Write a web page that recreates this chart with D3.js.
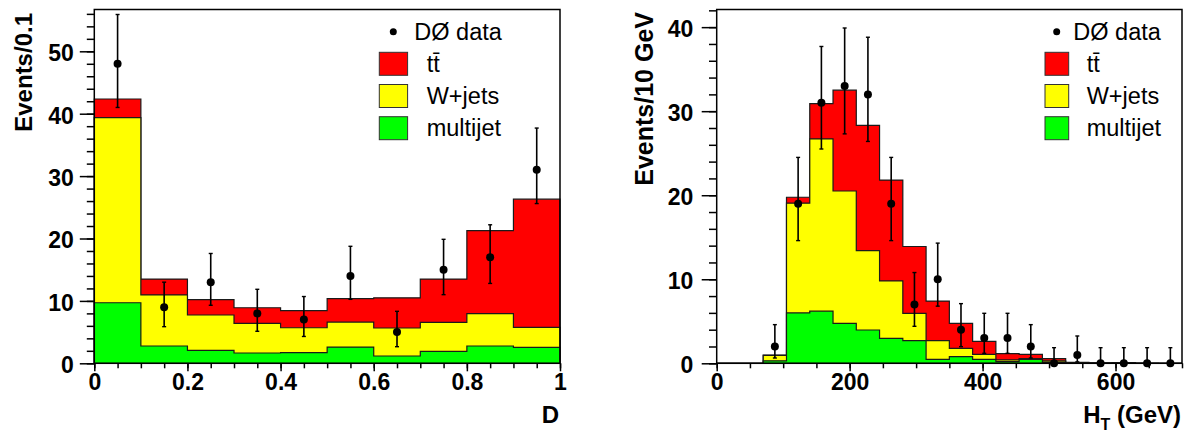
<!DOCTYPE html>
<html><head><meta charset="utf-8">
<script src="https://cdn.jsdelivr.net/npm/d3@7"></script>
<style>
body{margin:0;background:#fff}
svg{display:block}
text{font-family:"Liberation Sans",Arial,Helvetica,sans-serif}
</style>
</head><body>
<svg id="c" width="1187" height="433"></svg>
<script>
// ---------- Left panel: discriminant D ----------
const dEdges    = [0,0.1,0.2,0.3,0.4,0.5,0.6,0.7,0.8,0.9,1.0];
const dMultijet = [9.7,2.77,2.08,1.65,1.7,2.6,1.17,1.92,2.77,2.56];
const dWjets    = [29.66,8.18,5.66,4.75,4.0,4.0,4.49,4.65,5.18,3.21];
const dTtbar    = [3.0,2.55,2.46,2.5,2.73,3.76,4.84,6.93,13.3,20.53];
const dData     = [48,9,13,8,7,14,5,15,17,31];
const dErrLow   = [41.0,5.87,9.3,5.13,4.3,10.25,2.66,11.0,12.8,25.6];
const dErrHigh  = [55.9,13.0,17.6,11.86,10.7,18.75,8.33,19.87,22.2,37.7];
const dXTicks   = [0,0.2,0.4,0.6,0.8,1];
const dXLabels  = ["0","0.2","0.4","0.6","0.8","1"];
const dYTicks   = [0,10,20,30,40,50];

// ---------- Right panel: H_T ----------
const htEdges    = [0,35,70,105,140,175,210,245,280,315,350,385,420,455,490,525,560,595,630,665,700];
const htMultijet = [0,0,0.3,6.0,6.2,4.76,3.96,2.97,2.7,0.47,0.79,0.47,0.2,0.47,0.15,0.03,0.01,0.02,0,0];
const htWjets    = [0,0,0.65,13.05,20.5,15.74,9.44,6.83,3.25,2.23,0.99,0.6,0.2,0.08,0.15,0.03,0.01,0.02,0,0];
const htTtbar    = [0,0,0.03,0.71,4.2,12.0,14.9,12.0,7.95,4.7,2.98,1.53,0.75,0.52,0.25,0.04,0.03,0.04,0.02,0];
const htData     = [null,null,2,19,31,33,32,19,7,10,4,3,3,2,0,1,0,0,0,0];
const htErrLow   = [null,null,0.63,14.6,25.5,27.3,26.4,14.6,4.4,6.8,1.98,1.19,1.19,0.63,0,0.17,0,0,0,0];
const htErrHigh  = [null,null,4.6,24.5,37.7,39.9,38.8,24.5,10.8,14.3,7.1,5.95,5.95,4.6,1.86,3.25,1.86,1.86,1.86,1.86];
const htXTicks   = [0,200,400,600];
const htXLabels  = ["0","200","400","600"];
const htYTicks   = [0,10,20,30,40];

const legendLabels = ["DØ data","tt\u0304","W+jets","multijet"];
const colors = {mj:"#00ff00", wj:"#ffff00", tt:"#ff0000"};

const svg = d3.select("#c");

function drawPanel(p){
  const x = d3.scaleLinear().domain(p.xDomain).range([p.left,p.right]);
  const y = d3.scaleLinear().domain(p.yDomain).range([p.bottom,p.top]);
  const g = svg.append("g");

  // stacked histograms
  const rows = p.mj.map((v,i)=>({mj:v, wj:p.wj[i], tt:p.tt[i]}));
  const layers = d3.stack().keys(["mj","wj","tt"])(rows);
  const area = d3.area().curve(d3.curveStepAfter)
    .x(d=>x(d.x)).y0(y(0)).y1(d=>y(d.v));
  layers.slice().reverse().forEach(layer=>{
    const pts = layer.map((d,i)=>({x:p.edges[i], v:d[1]}));
    pts.push({x:p.edges[p.edges.length-1], v:layer[layer.length-1][1]});
    g.append("path").attr("d",area(pts))
      .attr("fill",colors[layer.key]).attr("stroke","#1a1a1a").attr("stroke-width",1.2)
      .attr("stroke-linejoin","miter");
  });

  // data points
  const pts = p.data.map((v,i)=>({v, lo:p.lo[i], hi:p.hi[i], c:(p.edges[i]+p.edges[i+1])/2}))
    .filter(d=>d.v!==null);
  const dg = g.append("g");
  dg.selectAll("line.err").data(pts).join("line").attr("class","err")
    .attr("x1",d=>x(d.c)).attr("x2",d=>x(d.c))
    .attr("y1",d=>y(d.lo)).attr("y2",d=>y(d.hi))
    .attr("stroke","#000").attr("stroke-width",1.6);
  dg.selectAll("line.capt").data(pts).join("line").attr("class","capt")
    .attr("x1",d=>x(d.c)-2).attr("x2",d=>x(d.c)+2)
    .attr("y1",d=>y(d.hi)).attr("y2",d=>y(d.hi))
    .attr("stroke","#000").attr("stroke-width",1.4);
  dg.selectAll("line.capb").data(pts.filter(d=>d.lo>0)).join("line").attr("class","capb")
    .attr("x1",d=>x(d.c)-2).attr("x2",d=>x(d.c)+2)
    .attr("y1",d=>y(d.lo)).attr("y2",d=>y(d.lo))
    .attr("stroke","#000").attr("stroke-width",1.4);
  dg.selectAll("circle").data(pts).join("circle")
    .attr("cx",d=>x(d.c)).attr("cy",d=>y(d.v)).attr("r",4).attr("fill","#000");

  // frame
  g.append("rect").attr("x",p.left).attr("y",p.top)
    .attr("width",p.right-p.left).attr("height",p.bottom-p.top)
    .attr("fill","none").attr("stroke","#000").attr("stroke-width",1.5);

  // axes
  const yMinor = g.append("g").attr("transform",`translate(${p.left},0)`)
    .call(d3.axisLeft(y).tickValues(d3.range(0,p.yDomain[1],2)).tickSize(p.yMinorLen).tickFormat(""));
  const yMajor = g.append("g").attr("transform",`translate(${p.left},0)`)
    .call(d3.axisLeft(y).tickValues(p.yTicks).tickSize(p.yMajorLen).tickPadding(p.yPad).tickFormat(d3.format("d")));
  const xMinor = g.append("g").attr("transform",`translate(0,${p.bottom})`)
    .call(d3.axisBottom(x).tickValues(d3.range(p.xDomain[0],p.xDomain[1]+p.xMinorStep/2,p.xMinorStep)).tickSize(5).tickFormat(""));
  const xMajor = g.append("g").attr("transform",`translate(0,${p.bottom})`)
    .call(d3.axisBottom(x).tickValues(p.xTicks).tickSize(8).tickPadding(2).tickFormat((d,i)=>p.xLabels[i]));
  [yMinor,yMajor,xMinor,xMajor].forEach(a=>{
    a.select(".domain").remove();
    a.selectAll("line").attr("stroke","#000").attr("stroke-width",1.5);
    a.attr("font-family",null).attr("font-size",null);
  });
  yMajor.selectAll("text").attr("font-size",23).attr("font-weight","bold").attr("dy","0.41em").attr("fill","#000");
  xMajor.selectAll("text").attr("font-size",23).attr("font-weight","bold").attr("dy","0.71em").attr("fill","#000");

  // axis titles
  g.append("text").attr("transform",`translate(${p.yTitleX},${p.yTitleY}) rotate(-90)`)
    .attr("text-anchor","end").attr("font-size",p.yTitleSize).attr("font-weight","bold").text(p.yTitle);
  const xt = g.append("text").attr("x",p.right-1).attr("y",423)
    .attr("text-anchor","end").attr("font-size",24).attr("font-weight","bold");
  p.xTitle(xt);

  // legend
  const lg = g.append("g");
  const rowY = [31.8,63.8,96,128.2];
  lg.append("circle").attr("cx",p.legDot).attr("cy",rowY[0]).attr("r",3.5).attr("fill","#000");
  const boxKeys = ["tt","wj","mj"];
  boxKeys.forEach((k,i)=>{
    lg.append("rect").attr("x",p.legBoxX).attr("y",rowY[i+1]-11.5)
      .attr("width",p.legBoxW).attr("height",23)
      .attr("fill",colors[k]).attr("stroke","#333").attr("stroke-width",1);
  });
  legendLabels.forEach((t,i)=>{
    lg.append("text").attr("x",i===0?p.legDataX:p.legTextX).attr("y",rowY[i]+8)
      .attr("font-size",23.5).attr("fill","#000").text(t);
  });
}

drawPanel({
  left:94.3, right:560, top:9.5, bottom:363.3,
  xDomain:[0,1], yDomain:[0,56.7],
  edges:dEdges, mj:dMultijet, wj:dWjets, tt:dTtbar,
  data:dData, lo:dErrLow, hi:dErrHigh,
  xTicks:dXTicks, xLabels:dXLabels, yTicks:dYTicks, xMinorStep:0.05,
  yMajorLen:14.5, yMinorLen:7.5, yPad:6,
  yTitle:"Events/0.1", yTitleX:31.5, yTitleY:13, yTitleSize:24,
  xTitle:t=>t.text("D"),
  legDot:393.3, legDataX:414.3, legBoxX:379.3, legBoxW:28.3, legTextX:426.7
});

drawPanel({
  left:716.7, right:1182, top:9.5, bottom:363.3,
  xDomain:[0,700], yDomain:[0,42.1],
  edges:htEdges, mj:htMultijet, wj:htWjets, tt:htTtbar,
  data:htData, lo:htErrLow, hi:htErrHigh,
  xTicks:htXTicks, xLabels:htXLabels, yTicks:htYTicks, xMinorStep:50,
  yMajorLen:15, yMinorLen:7.7, yPad:8.4,
  yTitle:"Events/10 GeV", yTitleX:653.3, yTitleY:12, yTitleSize:25,
  xTitle:t=>{
    t.append("tspan").text("H");
    t.append("tspan").attr("font-size",16).attr("dy",7).text("T");
    t.append("tspan").attr("dy",-7).text(" (GeV)");
  },
  legDot:1056.7, legDataX:1073.3, legBoxX:1045, legBoxW:23.7, legTextX:1086.7
});
</script>
</body></html>
